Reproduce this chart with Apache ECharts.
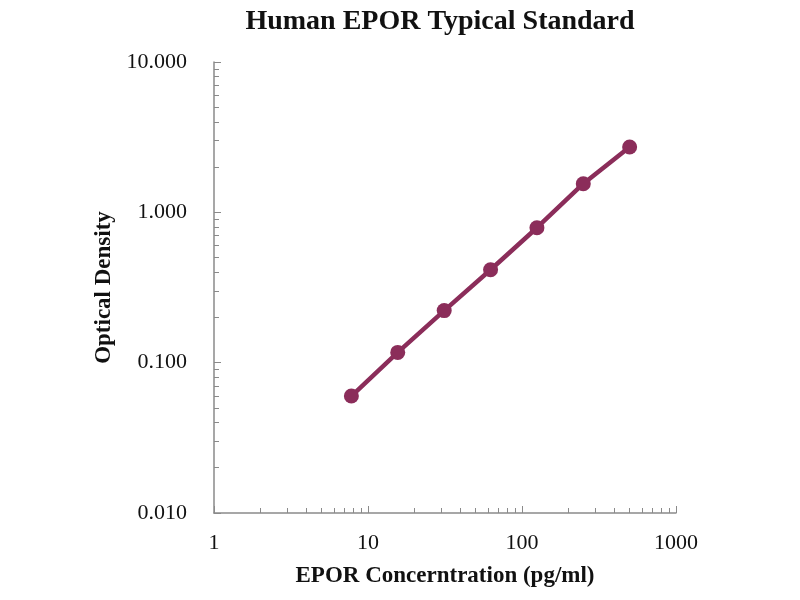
<!DOCTYPE html>
<html>
<head>
    <meta charset="utf-8">
    <title>Human EPOR Typical Standard</title>
    <script src="https://cdn.jsdelivr.net/npm/echarts@6/dist/echarts.min.js"></script>
    <style>
        html, body, #main {
            width: 100%;
            height: 100%;
            margin: 0;
            background: #fff;
        }
    </style>
</head>
<body>
    <div id="main"></div>
    <script type="text/javascript">
        // standard curve: concentration (pg/ml) vs optical density
        var concentration = [7.8, 15.6, 31.25, 62.5, 125, 250, 500];
        var opticalDensity = [0.060, 0.117, 0.222, 0.415, 0.790, 1.55, 2.72];

        var serif = '"Liberation Serif", "Times New Roman", serif';
        var curveColor = '#8B2D5A';
        var axisColor = '#8a8a8a';

        var points = [];
        for (var i = 0; i < concentration.length; i++) {
            points.push([concentration[i], opticalDensity[i]]);
        }

        var myChart = echarts.init(document.getElementById('main'));
        var option = {
            backgroundColor: '#fff',
            title: {
                text: 'Human EPOR Typical Standard',
                left: 435,
                top: 3,
                textAlign: 'center',
                textStyle: {
                    fontFamily: serif,
                    fontWeight: 'bold',
                    fontSize: 28,
                    color: '#111'
                }
            },
            grid: {
                left: 214,
                right: 124,
                top: 62,
                bottom: 87
            },
            xAxis: {
                type: 'log',
                logBase: 10,
                min: 1,
                max: 1000,
                name: 'EPOR Concerntration (pg/ml)',
                nameLocation: 'middle',
                nameGap: 52,
                nameTextStyle: {
                    fontFamily: serif,
                    fontWeight: 'bold',
                    fontSize: 23,
                    color: '#111'
                },
                axisLine: { lineStyle: { color: axisColor, width: 1.5 } },
                axisTick: { inside: true, length: 7, lineStyle: { color: axisColor } },
                minorTick: { show: true, splitNumber: 9, length: 5, lineStyle: { color: axisColor } },
                splitLine: { show: false },
                axisLabel: {
                    margin: 19,
                    fontFamily: serif,
                    fontSize: 22,
                    color: '#111',
                    formatter: function (v) { return String(v); }
                }
            },
            yAxis: {
                type: 'log',
                logBase: 10,
                min: 0.01,
                max: 10,
                name: 'Optical Density',
                nameLocation: 'middle',
                nameGap: 96,
                nameTextStyle: {
                    fontFamily: serif,
                    fontWeight: 'bold',
                    fontSize: 23,
                    color: '#111'
                },
                axisLine: { show: true, lineStyle: { color: axisColor, width: 1.5 } },
                axisTick: { show: true, inside: true, length: 7, lineStyle: { color: axisColor } },
                minorTick: { show: true, splitNumber: 9, length: 5, lineStyle: { color: axisColor } },
                splitLine: { show: false },
                axisLabel: {
                    margin: 27,
                    fontFamily: serif,
                    fontSize: 22,
                    color: '#111',
                    formatter: function (v) { return v.toFixed(3); }
                }
            },
            series: [{
                type: 'line',
                data: points,
                symbol: 'circle',
                symbolSize: 15,
                itemStyle: { color: curveColor },
                lineStyle: { color: curveColor, width: 4.5 },
                animation: false
            }]
        };
        myChart.setOption(option);
        window.onresize = myChart.resize;
    </script>
</body>
</html>
